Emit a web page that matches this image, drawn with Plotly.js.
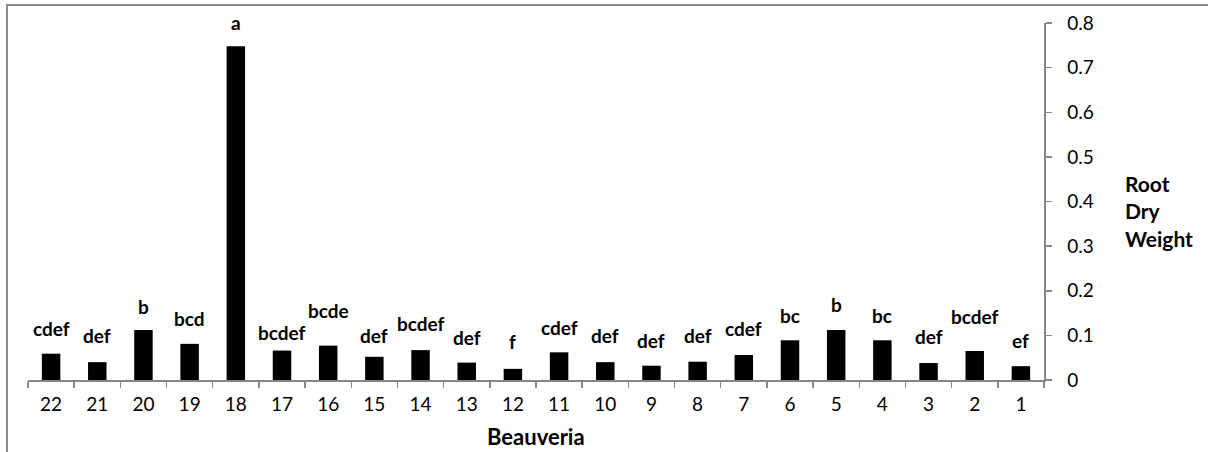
<!DOCTYPE html>
<html>
<head>
<meta charset="utf-8">
<script src="https://cdn.plot.ly/plotly-3.0.1.min.js"></script>
<style>
  html, body { margin: 0; padding: 0; background: #fff; }
  #chart { width: 1208px; height: 452px; }
</style>
</head>
<body>
<div id="chart"></div>
<script>
// Isolates (category order as drawn, left to right)
const isolates = ['22','21','20','19','18','17','16','15','14','13','12','11','10','9','8','7','6','5','4','3','2','1'];
// Root dry weight
const rootDryWeight = [0.059,0.040,0.112,0.081,0.748,0.066,0.077,0.052,0.067,0.039,0.025,0.062,0.040,0.032,0.041,0.056,0.089,0.112,0.089,0.038,0.065,0.031];
// Estimated (hidden) error above each bar, where the letter sits
const stdErr = [0.022,0.026,0.019,0.022,0.018,0.006,0.045,0.014,0.024,0.022,0.027,0.022,0.026,0.022,0.025,0.024,0.021,0.022,0.021,0.024,0.043,0.023];
// Significance letters
const letters = ['cdef','def','b','bcd','a','bcdef','bcde','def','bcdef','def','f','cdef','def','def','def','cdef','bc','b','bc','def','bcdef','ef'];
const yTicks = [0,0.1,0.2,0.3,0.4,0.5,0.6,0.7,0.8];

const FONT = 'Lato, "Open Sans", "DejaVu Sans", sans-serif';
const AXIS_GRAY = '#868686';

const trace = {
  type: 'bar',
  x: isolates,
  y: rootDryWeight,
  marker: { color: '#000000', line: { width: 0 } },
  hoverinfo: 'x+y'
};

// category axis: annotation x given as category index
const letterAnnotations = isolates.map((c, i) => ({
  x: i,
  y: rootDryWeight[i] + stdErr[i],
  xref: 'x', yref: 'y',
  text: '<b>' + letters[i] + '</b>',
  showarrow: false,
  xanchor: 'center',
  yanchor: 'bottom',
  yshift: 2,
  font: { family: FONT, size: 19, color: '#000' }
}));

const L = 28, R = 164, T = 23, B = 72, W = 1208, H = 452;
const pw = W - L - R, ph = H - T - B;
const px2x = p => (p - L) / pw;
const py2y = p => (H - B - p) / ph;

const layout = {
  width: W, height: H,
  margin: { l: L, r: R, t: T, b: B, pad: 0 },
  paper_bgcolor: '#ffffff',
  plot_bgcolor: '#ffffff',
  showlegend: false,
  bargap: 0.6,
  font: { family: FONT, size: 19, color: '#000' },
  xaxis: {
    type: 'category',
    categoryorder: 'array',
    categoryarray: isolates,
    showgrid: false,
    zeroline: false,
    showline: true,
    linecolor: AXIS_GRAY,
    linewidth: 1.5,
    ticks: 'outside',
    tickson: 'boundaries',
    ticklen: 6,
    tickwidth: 1.5,
    tickcolor: AXIS_GRAY,
    tickfont: { family: FONT, size: 19, color: '#000' },
    ticklabelstandoff: 7,
    fixedrange: true
  },
  yaxis: {
    side: 'right',
    range: [0, 0.8],
    tickvals: yTicks,
    ticktext: yTicks.map(v => String(v)),
    showgrid: false,
    zeroline: false,
    showline: true,
    linecolor: AXIS_GRAY,
    linewidth: 1.5,
    ticks: 'outside',
    ticklen: 6,
    tickwidth: 1.5,
    tickcolor: AXIS_GRAY,
    tickfont: { family: FONT, size: 19, color: '#000' },
    ticklabelstandoff: 12,
    fixedrange: true
  },
  annotations: letterAnnotations.concat([
    {
      xref: 'paper', yref: 'paper',
      x: 0.5, y: py2y(437),
      text: '<b>Beauveria</b>',
      showarrow: false, xanchor: 'center', yanchor: 'middle',
      font: { family: FONT, size: 22, color: '#000' }
    },
    {
      xref: 'paper', yref: 'paper',
      x: px2x(1123), y: py2y(211),
      text: '<b>Root</b><br><b>Dry</b><br><b>Weight</b>',
      showarrow: false, xanchor: 'left', yanchor: 'middle', align: 'left',
      font: { family: FONT, size: 21, color: '#000' }
    }
  ]),
  shapes: [
    { type: 'line', xref: 'paper', yref: 'paper', x0: px2x(7), x1: px2x(7), y0: py2y(4), y1: py2y(460),
      line: { color: '#8a8a8a', width: 2 } },
    { type: 'line', xref: 'paper', yref: 'paper', x0: px2x(6), x1: px2x(1215), y0: py2y(5), y1: py2y(5),
      line: { color: '#8a8a8a', width: 2 } }
  ]
};

Plotly.newPlot('chart', [trace], layout, { displayModeBar: false, staticPlot: true });
</script>
</body>
</html>
